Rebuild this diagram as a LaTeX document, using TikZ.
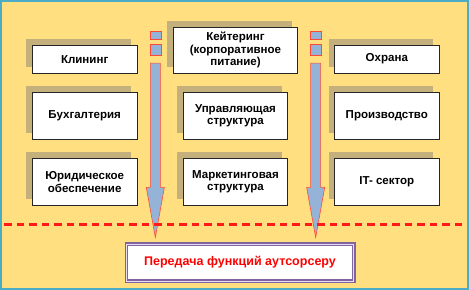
\documentclass[tikz,border=0pt]{standalone}
\usepackage{fontspec}
\setmainfont{Liberation Sans}
\usetikzlibrary{shadows}

\definecolor{Cbgyellow}{HTML}{FFDF80}
\definecolor{Cframe}{HTML}{4BACC6}
\definecolor{Cshadow}{HTML}{C4B07C}
\definecolor{Carrblue}{HTML}{95B3D7}
\definecolor{Carrred}{HTML}{FF4A3A}
\definecolor{Cpurple}{HTML}{8064A2}
\definecolor{Clavender}{HTML}{E6DEF2}
\definecolor{Cdashred}{HTML}{FF1A1A}

\begin{document}
\begin{tikzpicture}[x=1pt,y=-1pt,
		func/.style={draw=black!85,line width=0.6pt,fill=white,align=center,
			inner sep=0pt,font=\bfseries\fontsize{11.5}{12.5}\selectfont,
			drop shadow={shadow xshift=-6pt,shadow yshift=6pt,fill=Cshadow,opacity=1}},
		flowpart/.style={fill=Carrblue,draw=Carrred,line width=0.6pt}]
		% background
		\draw[fill=Cbgyellow,draw=Cframe,line width=2pt] (1,1) rectangle (467,288);
		% functions
		\node[func,minimum width=105,minimum height=28] (klin) at (84.5,59) {Клининг};
		\node[func,minimum width=105,minimum height=47] (buh) at (84.5,115.5) {Бухгалтерия};
		\node[func,minimum width=105,minimum height=47] (jur) at (84.5,181.5) {Юридическое\\обеспечение};
		\node[func,minimum width=124,minimum height=46] (keit) at (235,50) {Кейтеринг\\(корпоративное\\питание)};
		\node[func,minimum width=104,minimum height=47] (upr) at (235,115.5) {Управляющая\\структура};
		\node[func,minimum width=104,minimum height=47] (mark) at (235,181.5) {Маркетинговая\\структура};
		\node[func,minimum width=104,minimum height=28] (ohr) at (386,59) {Охрана};
		\node[func,minimum width=104,minimum height=47] (proizv) at (386,115.5) {Производство};
		\node[func,minimum width=104,minimum height=47] (it) at (386,181.5) {IT- сектор};
		% flows
		\foreach \cx in {155,315}{
				\draw[flowpart] (\cx-5.5,31) rectangle (\cx+5.5,39);
				\draw[flowpart] (\cx-5.5,44) rectangle (\cx+5.5,55);
				\draw[flowpart] (\cx-5,63) -- (\cx+5,63) -- (\cx+5,187) -- (\cx+9,187)
				-- (\cx,237) -- (\cx-9,187) -- (\cx-5,187) -- cycle;}
		\draw[Cdashred,line width=2.4pt,dash pattern=on 7.5pt off 5pt] (4,224)--(462,224);
		% outsourcer
		\node[draw=Cpurple,double=Clavender,double distance=0.9pt,line width=1.3pt,
			fill=white,minimum width=227,minimum height=37,text=red,
			font=\bfseries\fontsize{12.5}{14}\selectfont] (outs) at (239.5,262) {Передача функций аутсорсеру};
	\end{tikzpicture}
\end{document}
